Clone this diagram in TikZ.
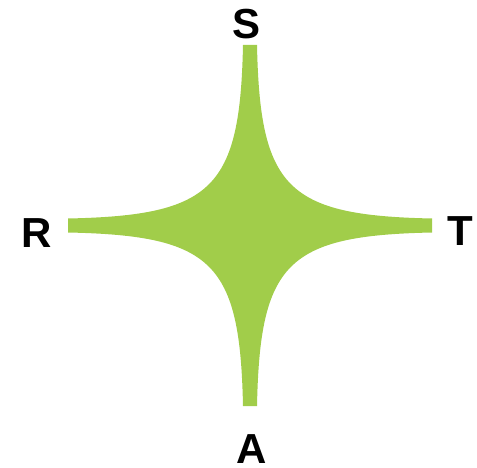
\documentclass[tikz,border=0pt]{standalone}
\usepackage{fontspec}
\setmainfont{Liberation Sans}
\usepackage{xcolor}
\usetikzlibrary{positioning}
\definecolor{stargreen}{HTML}{A1CD4A}
\tikzset{
 star fill/.style={fill=stargreen,draw=none},
 pole label/.style={font=\fontsize{42}{46}\selectfont\bfseries,inner sep=0pt,text=black},
}
\begin{document}
\begin{tikzpicture}[x=1pt,y=1pt]
\useasboundingbox (0,0) rectangle (477,-468);
% four-pointed star
\begin{scope}[shift={(250,-225.5)}]
\fill[star fill] (-7,180.5) -- (7,180.5)
  .. controls (10,37) and (37,10) .. (182,7) -- (182,-7)
  .. controls (37,-10) and (10,-37) .. (7,-180.5) -- (-7,-180.5)
  .. controls (-10,-37) and (-37,-10) .. (-182,-7) -- (-182,7)
  .. controls (-37,10) and (-10,37) .. cycle;
\end{scope}
% labels
\node[pole label] (s) at (247,-24) {S};
\node[pole label] (r) at (36.5,-233) {R};
\node[pole label] (t) at (460.5,-231) {T};
\node[pole label] (a) at (251.7,-449) {A};
\end{tikzpicture}
\end{document}
